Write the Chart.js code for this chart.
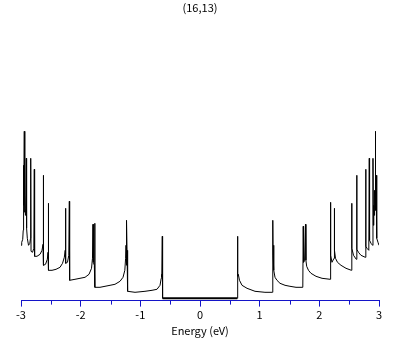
<!DOCTYPE html>
<html>
<head>
<meta charset="utf-8">
<script src="https://cdn.jsdelivr.net/npm/chart.js@4.4.0/dist/chart.umd.min.js"></script>
<style>
  html, body { margin: 0; padding: 0; background: #fff; }
</style>
</head>
<body>
<canvas id="chart" width="409" height="345"></canvas>
<script>
// density of states (energy in eV, DOS in arbitrary units)
const energy = [
  -3.000, -2.988, -2.971, -2.963, -2.961, -2.958, -2.951, -2.945, -2.940, -2.933,
  -2.926, -2.919, -2.911, -2.906, -2.894, -2.874, -2.852, -2.841, -2.837, -2.832,
  -2.807, -2.785, -2.777, -2.772, -2.732, -2.681, -2.648, -2.631, -2.626, -2.621,
  -2.589, -2.559, -2.547, -2.542, -2.537, -2.480, -2.413, -2.346, -2.304, -2.274,
  -2.259, -2.254, -2.249, -2.221, -2.199, -2.190, -2.185, -2.095, -2.011, -1.927,
  -1.860, -1.818, -1.802, -1.793, -1.788, -1.771, -1.765, -1.760, -1.676, -1.592,
  -1.508, -1.425, -1.341, -1.290, -1.260, -1.247, -1.240, -1.235, -1.228, -1.223,
  -1.217, -1.210, -1.089, -0.922, -0.804, -0.721, -0.670, -0.650, -0.644, -0.637,
  -0.632, -0.627,
  0.625, 0.628, 0.635, 0.642, 0.662, 0.704, 0.788, 0.922,
  1.089, 1.215, 1.220, 1.225, 1.232, 1.240, 1.257, 1.290, 1.341, 1.425,
  1.508, 1.609, 1.723, 1.730, 1.736, 1.753, 1.768, 1.775, 1.788, 1.818,
  1.860, 1.944, 2.045, 2.182, 2.187, 2.192, 2.212, 2.246, 2.251, 2.256,
  2.271, 2.304, 2.363, 2.447, 2.537, 2.542, 2.547, 2.573, 2.619, 2.626,
  2.631, 2.656, 2.698, 2.770, 2.777, 2.782, 2.799, 2.829, 2.837, 2.842,
  2.866, 2.893, 2.899, 2.906, 2.913, 2.919, 2.926, 2.933, 2.938, 2.945,
  2.951, 2.958, 2.966, 2.983, 3.000
];
const dos = [
  0.53, 0.56, 0.59, 0.68, 1.33, 0.80, 0.93, 1.67, 0.86, 1.03,
  0.83, 0.90, 1.40, 0.70, 0.60, 0.53, 0.55, 0.60, 1.40, 0.47,
  0.46, 0.50, 1.29, 0.42, 0.42, 0.44, 0.48, 0.54, 1.23, 0.33,
  0.34, 0.39, 0.46, 0.95, 0.28, 0.28, 0.29, 0.31, 0.35, 0.41,
  0.48, 0.90, 0.35, 0.36, 0.43, 0.97, 0.18, 0.19, 0.20, 0.21,
  0.24, 0.30, 0.40, 0.74, 0.36, 0.33, 0.75, 0.11, 0.11, 0.12,
  0.13, 0.14, 0.17, 0.21, 0.28, 0.40, 0.53, 0.33, 0.78, 0.48,
  0.28, 0.07, 0.06, 0.07, 0.08, 0.09, 0.13, 0.20, 0.24, 0.21,
  0.62, 0.00,
  0.00, 0.62, 0.22, 0.24, 0.18, 0.13, 0.10, 0.07,
  0.06, 0.06, 0.78, 0.43, 0.53, 0.28, 0.21, 0.18, 0.15, 0.13,
  0.12, 0.11, 0.11, 0.72, 0.36, 0.38, 0.74, 0.38, 0.32, 0.28,
  0.25, 0.22, 0.20, 0.19, 0.96, 0.43, 0.36, 0.40, 0.90, 0.48,
  0.40, 0.36, 0.33, 0.30, 0.28, 0.95, 0.50, 0.43, 0.39, 1.23,
  0.49, 0.46, 0.43, 0.41, 1.29, 0.52, 0.50, 0.48, 1.40, 0.58,
  0.55, 0.53, 1.40, 0.73, 0.93, 0.83, 1.08, 0.90, 1.67, 0.88,
  1.23, 0.76, 0.60, 0.56, 0.53
];
const majorTicks = [-3, -2, -1, 0, 1, 2, 3];
const minorTicks = [-2.5, -1.5, -0.5, 0.5, 1.5, 2.5];
const chartTitle = "(16,13)";
const xTitle = "Energy (eV)";

const axisBlue = "#1414c8";
const font = "'Noto Sans CJK JP', 'DejaVu Sans', sans-serif";

// short ticks at the half-eV marks
const minorTickPlugin = {
  id: "minorTicks",
  afterDraw(chart) {
    const x = chart.scales.x;
    const ctx = chart.ctx;
    const y0 = chart.chartArea.bottom;
    ctx.save();
    ctx.strokeStyle = axisBlue;
    ctx.lineWidth = 1;
    ctx.beginPath();
    minorTicks.forEach(v => {
      const px = Math.round(x.getPixelForValue(v)) + 0.5;
      ctx.moveTo(px, y0);
      ctx.lineTo(px, y0 + 4);
    });
    ctx.stroke();
    ctx.restore();
  }
};

const chart = new Chart(document.getElementById("chart"), {
  type: "line",
  data: {
    datasets: [{
      data: energy.map((e, i) => ({x: e, y: dos[i]})),
      borderColor: "#000",
      borderWidth: 1,
      pointRadius: 0,
      tension: 0,
      fill: false,
      // the flat zero level in the gap is drawn heavier in the original
      segment: {
        borderWidth: c => (c.p0.parsed.y === 0 && c.p1.parsed.y === 0 ? 2 : 1),
      },
    }],
  },
  options: {
    responsive: false,
    animation: false,
    layout: {padding: {left: 21, right: 30, top: 0, bottom: 8}},
    plugins: {
      legend: {display: false},
      tooltip: {enabled: false},
      title: {
        display: true,
        text: chartTitle,
        color: "#000",
        font: {family: font, size: 11, weight: "normal"},
        padding: {top: 1, bottom: 4},
      },
    },
    scales: {
      x: {
        type: "linear",
        min: -3,
        max: 3,
        afterBuildTicks: s => { s.ticks = majorTicks.map(v => ({value: v})); },
        grid: {drawOnChartArea: false, tickLength: 6, tickColor: axisBlue},
        border: {color: axisBlue, width: 1},
        ticks: {color: "#000", padding: 2, maxRotation: 0, font: {family: font, size: 11}},
        title: {
          display: true,
          text: xTitle,
          color: "#000",
          font: {family: font, size: 11},
          padding: {top: 0, bottom: 0},
        },
      },
      y: {
        display: false,
        min: -0.023,
        max: 2.8,
      },
    },
  },
  plugins: [minorTickPlugin],
});

// keep 100 px per DOS unit with the zero level just above the axis
const area = chart.chartArea;
chart.options.scales.y.max = -0.023 + (area.bottom - area.top) / 100;
chart.update("none");
</script>
</body>
</html>
